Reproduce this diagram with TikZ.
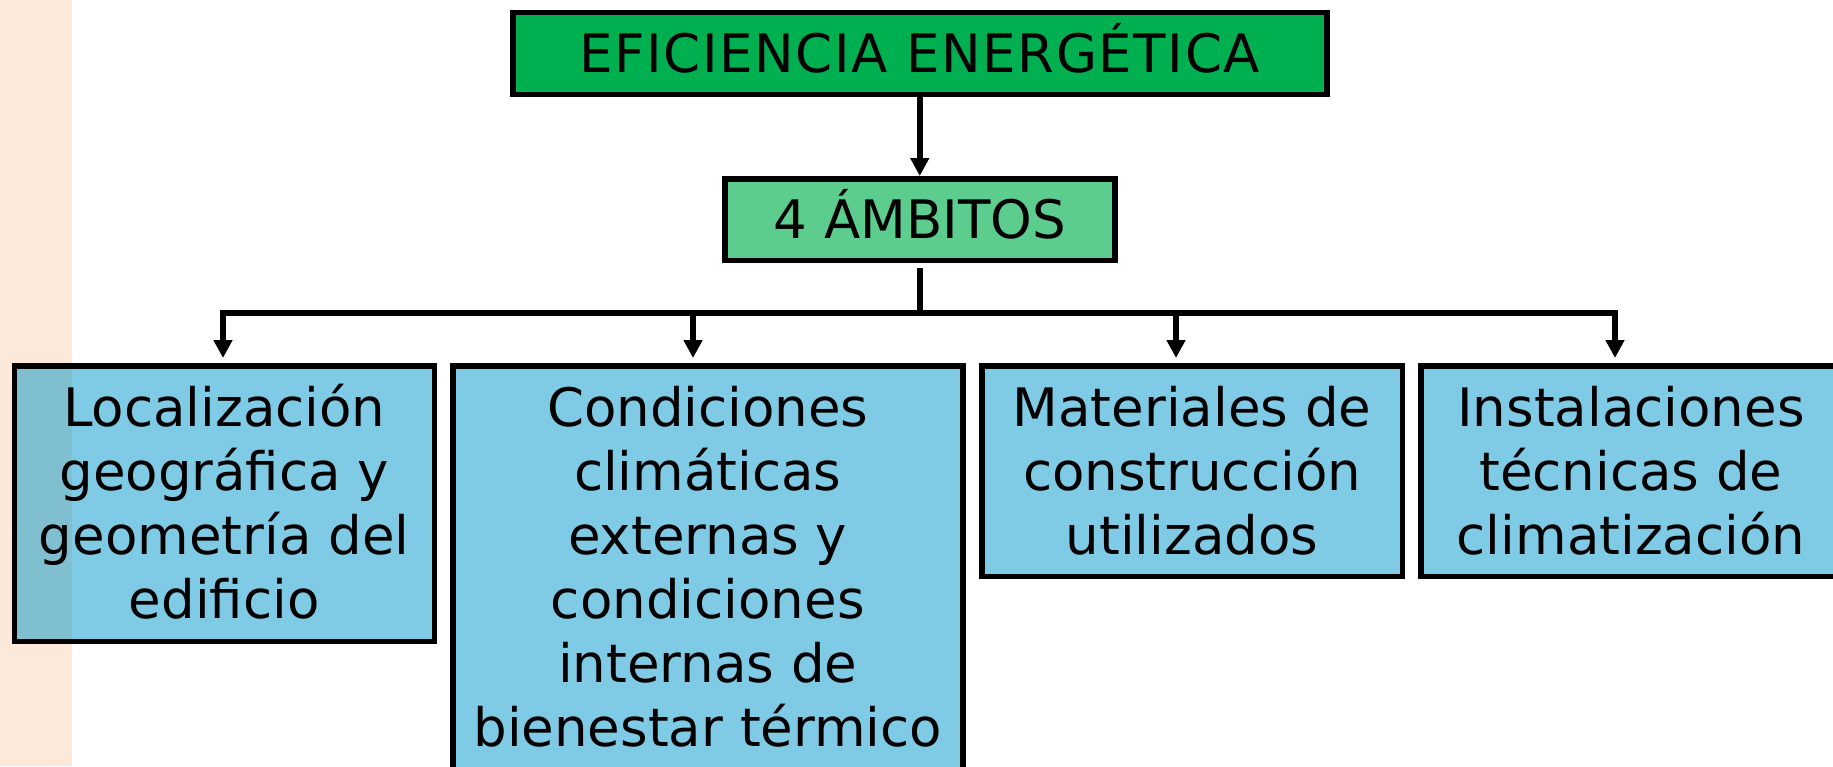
\documentclass[tikz,border=0pt]{standalone}
\usepackage{fontspec}
\setmainfont{DejaVu Sans}
\usetikzlibrary{arrows.meta}
\definecolor{peach}{HTML}{FDE9DA}
\definecolor{topgreen}{HTML}{00B050}
\definecolor{ambgreen}{HTML}{5CCD8F}
\definecolor{boxblue}{HTML}{7FCAE4}
\definecolor{ovlblue}{HTML}{7FBFD0}
\newcommand{\boxtxt}[3]{\parbox[c][#2][t]{#1}{\centering\fontsize{53}{64}\selectfont\rule{0pt}{60.25pt}#3}}
\begin{document}
\begin{tikzpicture}[x=1pt,y=-1pt,
  lw/.style={line width=5.5pt},
  headbox/.style={draw=black, lw, inner sep=0pt, outer sep=0pt, text height=38.6pt, text depth=0pt,
    font=\fontsize{53}{64}\selectfont},
  areabox/.style={draw=black, lw, fill=boxblue, inner sep=0pt, outer sep=0pt, anchor=north west},
  conn/.style={draw=black, lw, line join=miter},
  arr/.style={conn, -{Triangle[length=18pt,width=18pt]}},
  arrboth/.style={conn, {Triangle[length=18pt,width=18pt]}-{Triangle[length=18pt,width=18pt]}}
]
\useasboundingbox (0,0) rectangle (1833,766);
\clip (0,0) rectangle (1833,766);
\fill[peach] (0,0) rectangle (72,766);

\node[headbox, fill=topgreen, minimum width=814pt, minimum height=82pt] (ef) at (919.75,53.25)
  {\addfontfeature{LetterSpace=3}EFICIENCIA ENERGÉTICA};
\node[headbox, fill=ambgreen, minimum width=390pt, minimum height=81.5pt] (amb) at (919.75,219.5)
  {4 ÁMBITOS};

\node[areabox, path picture={\fill[ovlblue] (path picture bounding box.north west) rectangle ([xshift=57.75pt]path picture bounding box.south west);}] (loc) at (14.25,365.75)
  {\boxtxt{420pt}{275.5pt}{Localización\\geográfica y\\geometría del\\edificio}};
\node[areabox] (cond) at (452.75,365.75)
  {\boxtxt{510.1pt}{450pt}{Condiciones\\climáticas\\externas y\\condiciones\\internas de\\bienestar térmico}};
\node[areabox] (mat) at (981.75,365.75)
  {\boxtxt{420.5pt}{210.5pt}{Materiales de\\construcción\\utilizados}};
\node[areabox] (ins) at (1420.75,365.75)
  {\boxtxt{420.5pt}{210.5pt}{Instalaciones\\técnicas de\\climatización}};

\coordinate (bus) at (919.75,313);
\coordinate (t1) at ([xshift=-1.25pt,yshift=7.75pt]loc.north);
\coordinate (t2) at ([xshift=-14.8pt,yshift=7.75pt]cond.north);
\coordinate (t3) at ([xshift=-16pt,yshift=7.75pt]mat.north);
\coordinate (t4) at ([xshift=-16pt,yshift=7.75pt]ins.north);

\draw[arr] (ef.south) -- ([yshift=2.75pt]amb.north);
\draw[conn] ([yshift=-7.75pt]amb.south) -- (bus);
\draw[arrboth] (t1) -- (t1 |- bus) -- (t4 |- bus) -- (t4);
\draw[arr] (t2 |- bus) -- (t2);
\draw[arr] (t3 |- bus) -- (t3);
\end{tikzpicture}
\end{document}
